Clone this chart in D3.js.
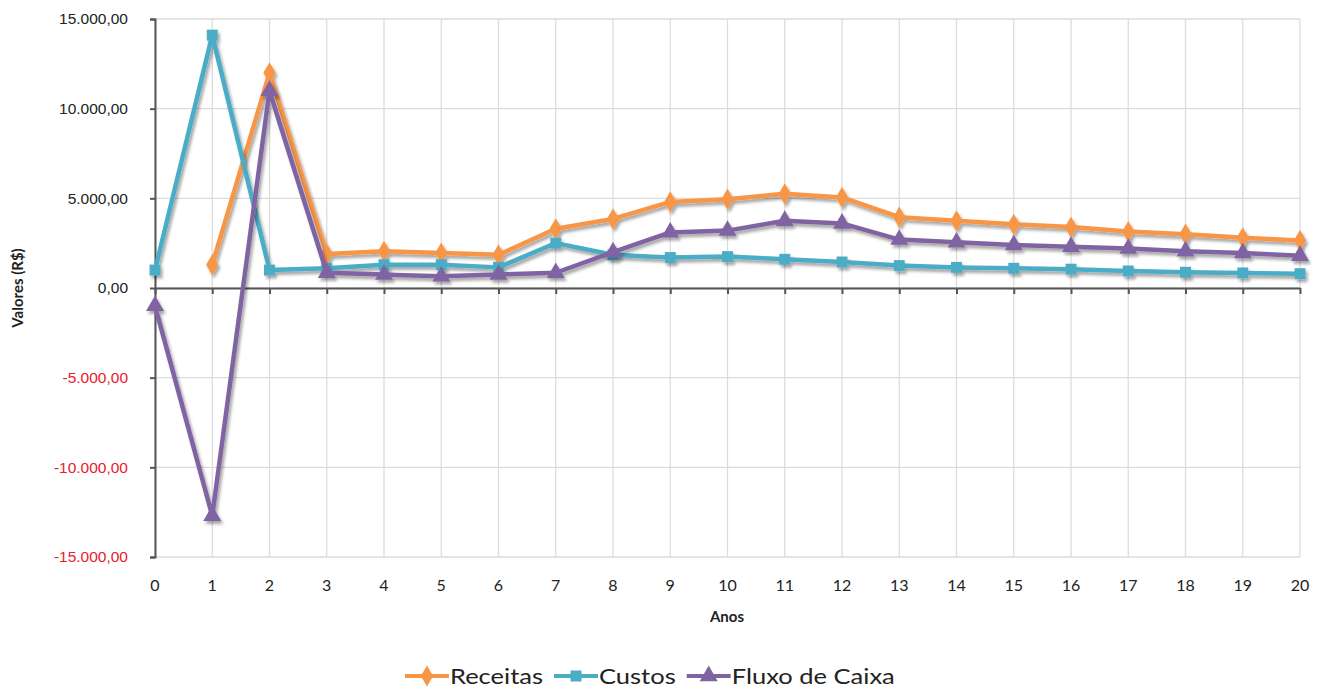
<!DOCTYPE html>
<html>
<head>
<meta charset="utf-8">
<script src="https://cdn.jsdelivr.net/npm/d3@7"></script>
<style>
  body { margin: 0; background: #fff; }
  svg { font-family: Lato, "Open Sans", sans-serif; }
</style>
</head>
<body>
<svg id="chart" width="1328" height="693"></svg>
<script>
// dados
const anos = d3.range(0, 21)
const receitas = [null, 1300, 12000, 1900, 2050, 1950, 1850, 3300, 3850, 4800, 4950, 5250, 5050, 3950, 3750, 3550, 3400, 3150, 3000, 2800, 2650]
const custos = [1000, 14100, 1000, 1100, 1300, 1300, 1150, 2500, 1850, 1700, 1750, 1600, 1450, 1250, 1150, 1100, 1050, 950, 880, 840, 800]
const fluxo = [-1000, -12700, 11000, 850, 750, 650, 750, 850, 2000, 3100, 3200, 3750, 3600, 2700, 2550, 2400, 2300, 2200, 2050, 1950, 1800]
const yTicks = [-15000, -10000, -5000, 0, 5000, 10000, 15000]

const series = [
    { name: "Receitas", values: receitas, color: "#f79646", symbol: "diamond" },
    { name: "Custos", values: custos, color: "#4bacc6", symbol: "square" },
    { name: "Fluxo de Caixa", values: fluxo, color: "#8064a2", symbol: "triangle" },
]

const svg = d3.select("#chart")
const x = d3.scaleLinear().domain([0, 20]).range([155, 1300])
const y = d3.scaleLinear().domain([-15000, 15000]).range([557, 19])

// formato pt-BR: 15.000,00
const fmt = v => {
    let s = d3.format(",.2f")(Math.abs(v)).replace(/,/g, "#").replace(".", ",").replace(/#/g, ".")
    return (v < 0 ? "-" : "") + s
}

// sombra dos marcadores/linhas
const defs = svg.append("defs")
const f = defs.append("filter").attr("id", "sombra").attr("x", "-20%").attr("y", "-20%").attr("width", "140%").attr("height", "140%")
f.append("feDropShadow").attr("dx", 2).attr("dy", 3).attr("stdDeviation", 1.8)
    .attr("flood-color", "#000").attr("flood-opacity", 0.35)

// grade
svg.append("g").selectAll("line").data(anos).enter().append("line")
    .attr("x1", d => x(d)).attr("x2", d => x(d)).attr("y1", y(15000)).attr("y2", y(-15000))
    .attr("stroke", "#dcdcdc").attr("stroke-width", 1.3)
svg.append("g").selectAll("line").data(yTicks).enter().append("line")
    .attr("x1", x(0)).attr("x2", x(20)).attr("y1", d => y(d)).attr("y2", d => y(d))
    .attr("stroke", "#dcdcdc").attr("stroke-width", 1.3)

// eixo Y
const yAxis = svg.append("g").attr("transform", `translate(${x(0)},0)`)
    .call(d3.axisLeft(y).tickValues(yTicks).tickFormat(fmt).tickSize(5).tickSizeOuter(5).tickPadding(22))
yAxis.select(".domain").attr("stroke", "#555").attr("stroke-width", 2)
yAxis.selectAll(".tick line").attr("stroke", "#555").attr("stroke-width", 2)
yAxis.selectAll("text").attr("font-size", 15.5).attr("fill", d => d < 0 ? "#e8202a" : "#222")

// eixo X na linha do zero
const xAxis = svg.append("g").attr("transform", `translate(0,${y(0)})`)
    .call(d3.axisBottom(x).tickValues(anos).tickFormat("").tickSize(6).tickSizeOuter(0))
xAxis.select(".domain").attr("stroke", "#555").attr("stroke-width", 2)
xAxis.selectAll(".tick line").attr("stroke", "#555").attr("stroke-width", 2)

// rótulos do eixo X embaixo
svg.append("g").selectAll("text").data(anos).enter().append("text")
    .attr("x", d => x(d)).attr("y", 591).attr("text-anchor", "middle")
    .attr("font-size", 16).attr("fill", "#222").text(d => d)

svg.append("text").attr("x", 727).attr("y", 622).attr("text-anchor", "middle")
    .attr("font-size", 15).attr("font-weight", "bold").attr("fill", "#222").text("Anos")
svg.append("text").attr("transform", `translate(23,288) rotate(-90)`).attr("text-anchor", "middle")
    .attr("font-size", 15).attr("font-weight", "bold").attr("fill", "#222").text("Valores (R$)")

const symType = { diamond: d3.symbolDiamond, square: d3.symbolSquare, triangle: d3.symbolTriangle }
const symSize = { diamond: 130, square: 120, triangle: 140 }

const line = d3.line().defined(d => d.v !== null).x(d => x(d.a)).y(d => y(d.v))

series.forEach(s => {
    const pts = anos.map((a, i) => ({ a, v: s.values[i] }))
    const g = svg.append("g").attr("filter", "url(#sombra)")
    g.append("path").datum(pts).attr("d", line)
        .attr("fill", "none").attr("stroke", s.color).attr("stroke-width", 4.5).attr("stroke-linejoin", "round")
    g.selectAll("path.m").data(pts.filter(d => d.v !== null)).enter().append("path").attr("class", "m")
        .attr("transform", d => `translate(${x(d.a)},${y(d.v)})`)
        .attr("d", d3.symbol().type(symType[s.symbol]).size(symSize[s.symbol]))
        .attr("fill", s.color)
})

// legenda
const leg = svg.append("g")
let lx = 405
series.forEach(s => {
    const g = leg.append("g").attr("transform", `translate(${lx},676)`)
    g.append("line").attr("x1", 0).attr("x2", 44).attr("stroke", s.color).attr("stroke-width", 4)
    g.append("path").attr("transform", "translate(22,0)")
        .attr("d", d3.symbol().type(symType[s.symbol]).size(symSize[s.symbol])).attr("fill", s.color)
    const t = g.append("text").attr("transform", "translate(45,8) scale(1.16,1)")
        .attr("font-size", 22).attr("fill", "#222").text(s.name)
    lx += 45 + t.node().getComputedTextLength() * 1.16 + 11
})
</script>
</body>
</html>
